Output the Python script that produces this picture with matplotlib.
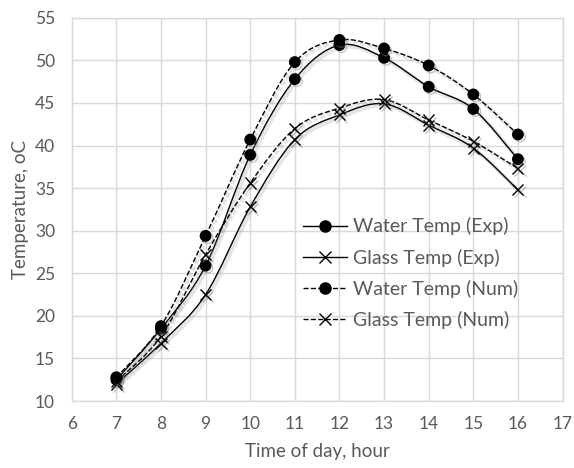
import matplotlib
matplotlib.use('Agg')
import matplotlib.pyplot as plt
import matplotlib.patheffects as pe
from matplotlib.path import Path
from matplotlib.patches import PathPatch
from matplotlib.lines import Line2D

plt.rcParams['font.family'] = ['Lato', 'DejaVu Sans']

# hour of day
hours = [7, 8, 9, 10, 11, 12, 13, 14, 15, 16]

# measured temperatures, oC
water_exp = [12.5, 18.5, 25.9, 38.9, 47.8, 51.8, 50.3, 46.9, 44.3, 38.4]
glass_exp = [12.0, 16.8, 22.5, 32.8, 40.7, 43.6, 44.9, 42.4, 39.7, 34.8]

# simulated temperatures, oC
water_num = [12.8, 18.8, 29.4, 40.7, 49.8, 52.4, 51.4, 49.4, 46.0, 41.3]
glass_num = [12.3, 17.6, 27.2, 35.6, 42.0, 44.4, 45.4, 43.0, 40.5, 37.3]

labels = ['Water Temp (Exp)', 'Glass Temp (Exp)', 'Water Temp (Num)', 'Glass Temp (Num)']

txt = '#595959'
grid = '#d9d9d9'


def smooth_path(x, y):
    # Bezier through every point, like a spreadsheet "smoothed line"
    verts = [(x[0], y[0])]
    codes = [Path.MOVETO]
    n = len(x)
    for i in range(n - 1):
        x0, y0 = (x[i - 1], y[i - 1]) if i > 0 else (x[i], y[i])
        x3, y3 = (x[i + 2], y[i + 2]) if i + 2 < n else (x[i + 1], y[i + 1])
        c1 = (x[i] + (x[i + 1] - x0) / 6.0, y[i] + (y[i + 1] - y0) / 6.0)
        c2 = (x[i + 1] - (x3 - x[i]) / 6.0, y[i + 1] - (y3 - y[i]) / 6.0)
        verts += [c1, c2, (x[i + 1], y[i + 1])]
        codes += [Path.CURVE4] * 3
    return Path(verts, codes)


fig = plt.figure(figsize=(5.74, 4.68), dpi=100)
ax = fig.add_axes([0.125, 0.143, 0.855, 0.819])

shadow = [pe.SimpleLineShadow(offset=(1.5, -1.5), shadow_color='gray', alpha=0.45), pe.Normal()]
lshadow = [pe.SimpleLineShadow(offset=(1.5, -1.5), shadow_color='gray', alpha=0.2, linewidth=3), pe.Normal()]

series = [(water_exp, '-', 'o'), (glass_exp, '-', 'x'),
          (water_num, '--', 'o'), (glass_num, '--', 'x')]
handles = []
for (vals, ls, mk), lab in zip(series, labels):
    patch = PathPatch(smooth_path(hours, vals), fill=False, edgecolor='black',
                      linestyle=ls, linewidth=1.0, zorder=3)
    patch.set_path_effects(lshadow)
    ax.add_patch(patch)
    ax.plot(hours, vals, linestyle='none', marker=mk, color='black',
            markersize=7.5 if mk == 'o' else 8, markeredgewidth=1.0, zorder=4,
            path_effects=shadow)
    handles.append(Line2D([], [], color='black', linestyle=ls, linewidth=1.0,
                          marker=mk, markersize=8 if mk == 'o' else 9))

ax.set_xlim(6, 17)
ax.set_ylim(10, 55)
ax.set_xticks(range(6, 18))
ax.set_yticks(range(10, 56, 5))
ax.grid(True, color=grid, linewidth=1.0)
ax.set_axisbelow(True)
for s in ax.spines.values():
    s.set_color(grid)
    s.set_linewidth(1.0)
ax.tick_params(length=0, labelsize=12.5, labelcolor=txt)
ax.tick_params(axis='y', pad=12)
ax.tick_params(axis='x', pad=11)

ax.set_xlabel('Time of day, hour', fontsize=13.5, color=txt, labelpad=8)
ax.set_ylabel('Temperature, oC', fontsize=13.5, color=txt, labelpad=4)

ax.legend(handles, labels, loc='upper left', bbox_to_anchor=(0.435, 0.525),
          frameon=False, fontsize=14, labelcolor=txt, handlelength=2.3,
          handletextpad=0.3, labelspacing=0.68)

fig.savefig('out.png', dpi=100)
